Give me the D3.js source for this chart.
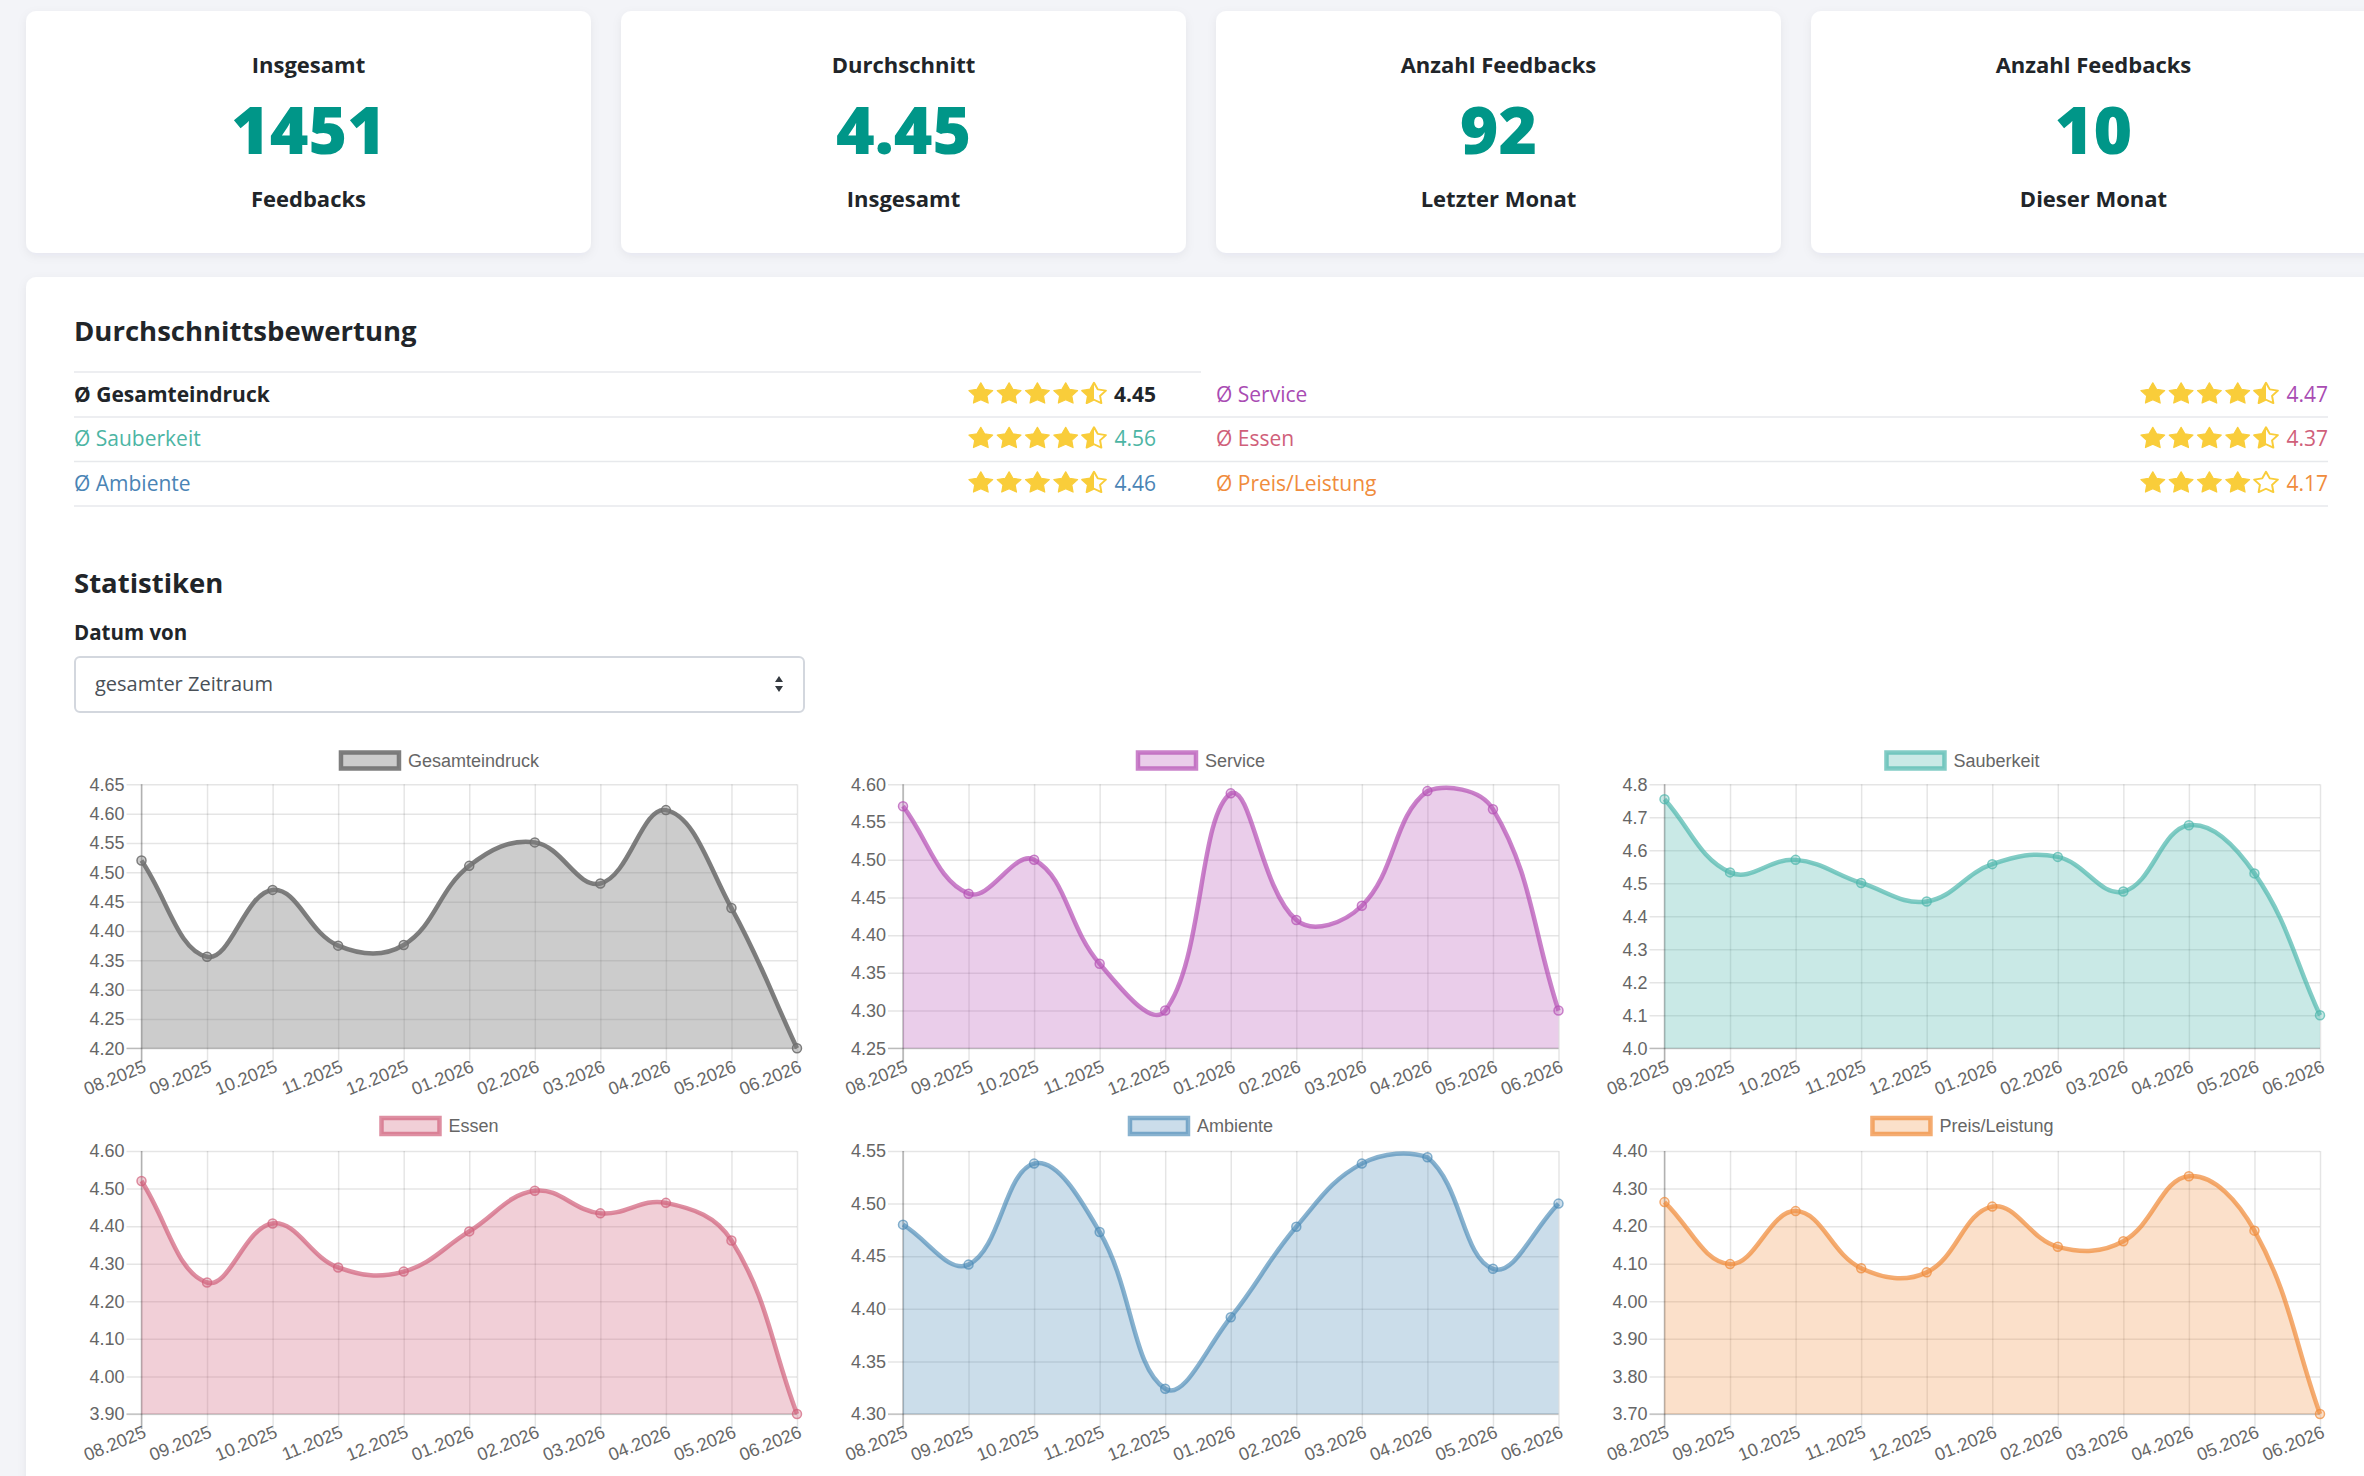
<!DOCTYPE html>
<html>
<head>
<meta charset="utf-8">
<script src="https://cdn.jsdelivr.net/npm/d3@7"></script>
<style>
  html, body { margin: 0; padding: 0; background: #f3f4f8; overflow: hidden; }
  svg { display: block; }
  .ui { font-family: "Open Sans", "Noto Sans", sans-serif; }
  .cj { font-family: "Liberation Sans", Arial, Helvetica, sans-serif; }
</style>
</head>
<body>
<div id="page"></div>
<script>
/* global d3 */

const width = 2364,
  height = 1476

// Summary cards
const cardTitles = ['Insgesamt', 'Durchschnitt', 'Anzahl Feedbacks', 'Anzahl Feedbacks']
const cardValues = ['1451', '4.45', '92', '10']
const cardSubtitles = ['Feedbacks', 'Insgesamt', 'Letzter Monat', 'Dieser Monat']

// Average ratings (left column first, then right column)
const ratingLabels = ['Gesamteindruck', 'Sauberkeit', 'Ambiente', 'Service', 'Essen', 'Preis/Leistung']
const ratingValues = [4.45, 4.56, 4.46, 4.47, 4.37, 4.17]

// Monthly averages
const months = ['08.2025', '09.2025', '10.2025', '11.2025', '12.2025', '01.2026',
  '02.2026', '03.2026', '04.2026', '05.2026', '06.2026']
const gesamteindruck = [4.52, 4.356, 4.47, 4.375, 4.376, 4.511, 4.551, 4.481, 4.606, 4.439, 4.20]
const service = [4.571, 4.455, 4.50, 4.362, 4.30, 4.588, 4.42, 4.439, 4.591, 4.567, 4.30]
const sauberkeit = [4.755, 4.533, 4.571, 4.501, 4.445, 4.558, 4.58, 4.475, 4.676, 4.53, 4.10]
const essen = [4.52, 4.25, 4.407, 4.29, 4.279, 4.386, 4.494, 4.434, 4.462, 4.362, 3.90]
const ambiente = [4.48, 4.442, 4.538, 4.473, 4.324, 4.392, 4.478, 4.538, 4.544, 4.438, 4.50]
const preisLeistung = [4.264, 4.099, 4.24, 4.088, 4.077, 4.252, 4.145, 4.16, 4.333, 4.188, 3.70]

const chartNames = ['Gesamteindruck', 'Service', 'Sauberkeit', 'Essen', 'Ambiente', 'Preis/Leistung']
const chartSeries = [gesamteindruck, service, sauberkeit, essen, ambiente, preisLeistung]

// y tick labels per chart
const yTickLabels = [
  ['4.20', '4.25', '4.30', '4.35', '4.40', '4.45', '4.50', '4.55', '4.60', '4.65'],
  ['4.25', '4.30', '4.35', '4.40', '4.45', '4.50', '4.55', '4.60'],
  ['4.0', '4.1', '4.2', '4.3', '4.4', '4.5', '4.6', '4.7', '4.8'],
  ['3.90', '4.00', '4.10', '4.20', '4.30', '4.40', '4.50', '4.60'],
  ['4.30', '4.35', '4.40', '4.45', '4.50', '4.55'],
  ['3.70', '3.80', '3.90', '4.00', '4.10', '4.20', '4.30', '4.40']
]

// colours per category
const palette = {
  'Gesamteindruck': { text: '#212529', line: 'rgba(112,112,112,0.9)', fill: 'rgba(128,128,128,0.4)' },
  'Service': { text: '#a94cb3', line: 'rgba(182,82,182,0.72)', fill: 'rgba(182,82,182,0.29)' },
  'Sauberkeit': { text: '#4cb5a4', line: 'rgba(77,182,172,0.7)', fill: 'rgba(77,182,172,0.3)' },
  'Essen': { text: '#d0607a', line: 'rgba(208,96,122,0.7)', fill: 'rgba(208,96,122,0.3)' },
  'Ambiente': { text: '#4a84b5', line: 'rgba(75,138,182,0.66)', fill: 'rgba(75,138,182,0.29)' },
  'Preis/Leistung': { text: '#f08c3c', line: 'rgba(240,140,60,0.72)', fill: 'rgba(240,140,60,0.27)' }
}
const starColor = '#f9cd3a'
const inkColor = '#212529'

let svg = d3.select('#page')
  .append('svg')
  .attr('width', width)
  .attr('height', height)

let defs = svg.append('defs')
let shadow = defs.append('filter').attr('id', 'shadow')
  .attr('x', '-5%').attr('y', '-5%').attr('width', '110%').attr('height', '120%')
shadow.append('feDropShadow')
  .attr('dx', 0).attr('dy', 3).attr('stdDeviation', 5)
  .attr('flood-color', '#1e2a50').attr('flood-opacity', 0.06)

svg.append('rect').attr('width', width).attr('height', height).attr('fill', '#f3f4f8')

// ---- summary cards ----
let cards = svg.selectAll('g.card')
  .data(cardValues)
  .enter()
  .append('g')
  .attr('class', 'card ui')
  .attr('transform', (d, i) => `translate(${26 + i * 595}, 11)`)

cards.append('rect')
  .attr('width', 565).attr('height', 242).attr('rx', 10)
  .attr('fill', '#fff').attr('filter', 'url(#shadow)')

cards.append('text')
  .attr('x', 282.5).attr('y', 62)
  .attr('text-anchor', 'middle')
  .attr('font-size', 22).attr('font-weight', 700).attr('fill', inkColor)
  .text((d, i) => cardTitles[i])

cards.append('text')
  .attr('x', 282.5).attr('y', 143)
  .attr('text-anchor', 'middle')
  .attr('font-size', 66).attr('font-weight', 800).attr('fill', '#009688')
  .text(d => d)

cards.append('text')
  .attr('x', 282.5).attr('y', 196)
  .attr('text-anchor', 'middle')
  .attr('font-size', 22).attr('font-weight', 700).attr('fill', inkColor)
  .text((d, i) => cardSubtitles[i])

// ---- main card ----
let main = svg.append('g').attr('class', 'ui')
main.append('rect')
  .attr('x', 26).attr('y', 277).attr('width', 2351).attr('height', 1300).attr('rx', 10)
  .attr('fill', '#fff').attr('filter', 'url(#shadow)')

main.append('text')
  .attr('x', 74).attr('y', 341)
  .attr('font-size', 27.5).attr('font-weight', 700).attr('fill', inkColor)
  .text('Durchschnittsbewertung')

// rating rows
const rowBaseline = [401.5, 446, 490.5]
const rowLines = [372, 417, 461.5, 506]

main.append('line')
  .attr('x1', 74).attr('x2', 1201).attr('y1', rowLines[0]).attr('y2', rowLines[0])
  .attr('stroke', '#e7e9ec').attr('stroke-width', 1.5)
main.selectAll('line.sep')
  .data(rowLines.slice(1))
  .enter()
  .append('line')
  .attr('class', 'sep')
  .attr('x1', 74).attr('x2', 2328)
  .attr('y1', d => d).attr('y2', d => d)
  .attr('stroke', '#e7e9ec').attr('stroke-width', 1.5)

// chubby five-point star (outer 12.5, inner 6.4)
const starPts = d3.range(10).map(k => [k * Math.PI / 5, k % 2 ? 6.4 : 12.5])
const starSym = d3.lineRadial().curve(d3.curveLinearClosed)(starPts)
let starClip = defs.append('clipPath').attr('id', 'halfClip')
starClip.append('rect').attr('x', -20).attr('y', -20).attr('width', 20).attr('height', 40)

let rows = main.selectAll('g.rating')
  .data(ratingValues)
  .enter()
  .append('g')
  .attr('class', 'rating')
  .attr('transform', (d, i) => `translate(0, ${rowBaseline[i % 3]})`)

rows.append('text')
  .attr('x', (d, i) => i < 3 ? 74 : 1216)
  .attr('font-size', 21)
  .attr('font-weight', (d, i) => i === 0 ? 700 : 400)
  .attr('fill', (d, i) => palette[ratingLabels[i]].text)
  .text((d, i) => 'Ø ' + ratingLabels[i])

rows.append('text')
  .attr('x', (d, i) => i < 3 ? 1156 : 2328)
  .attr('text-anchor', 'end')
  .attr('font-size', 21)
  .attr('font-weight', (d, i) => i === 0 ? 700 : 400)
  .attr('fill', (d, i) => palette[ratingLabels[i]].text)
  .text(d => d.toFixed(2))

rows.each(function (d, i) {
  let g = d3.select(this)
  let end = i < 3 ? 1156 : 2328
  let rounded = Math.round(d * 2) / 2
  for (let k = 0; k < 5; k++) {
    let cx = end - 62 - (4 - k) * 28.3
    let s = g.append('g').attr('transform', `translate(${cx}, -7.5) scale(1, 0.9)`)
    let kind = rounded >= k + 1 ? 'full' : (rounded >= k + 0.5 ? 'half' : 'empty')
    if (kind === 'full') {
      s.append('path').attr('d', starSym).attr('fill', starColor)
        .attr('stroke', starColor).attr('stroke-width', 1.2).attr('stroke-linejoin', 'round')
    } else {
      if (kind === 'half') {
        s.append('path').attr('d', starSym).attr('fill', starColor).attr('clip-path', 'url(#halfClip)')
      }
      s.append('path').attr('d', starSym).attr('fill', 'none')
        .attr('stroke', starColor).attr('stroke-width', 2).attr('stroke-linejoin', 'round')
    }
  }
})

main.append('text')
  .attr('x', 74).attr('y', 593)
  .attr('font-size', 27.5).attr('font-weight', 700).attr('fill', inkColor)
  .text('Statistiken')

main.append('text')
  .attr('x', 74).attr('y', 640)
  .attr('font-size', 20.5).attr('font-weight', 700).attr('fill', inkColor)
  .text('Datum von')

main.append('rect')
  .attr('x', 75).attr('y', 657).attr('width', 729).attr('height', 55).attr('rx', 5)
  .attr('fill', '#fff').attr('stroke', '#d3d7de').attr('stroke-width', 2)
main.append('text')
  .attr('x', 95).attr('y', 690.5)
  .attr('font-size', 20).attr('fill', '#495057')
  .text('gesamter Zeitraum')
main.append('path')
  .attr('d', 'M775,682 L779,676 L783,682 Z M775,686 L779,692 L783,686 Z')
  .attr('fill', '#343a40')

// ---- charts (Chart.js style spline, tension 0.4) ----
function ChartjsCurve(context, box) {
  this._context = context
  this._box = box
}
ChartjsCurve.prototype = {
  areaStart() { this._line = 0 },
  areaEnd() { this._line = NaN },
  lineStart() { this._pts = [] },
  point(x, y) { this._pts.push([+x, +y]) },
  lineEnd() {
    let p = this._pts, n = p.length, c = this._context, b = this._box
    if (n) {
      if (this._line) c.lineTo(p[0][0], p[0][1])
      else c.moveTo(p[0][0], p[0][1])
      if (n > 2) {
        let t = 0.4
        let cap = (v, lo, hi) => Math.max(lo, Math.min(hi, v))
        let ctrl = p.map((cur, i) => {
          let prev = p[Math.max(0, i - 1)], next = p[Math.min(n - 1, i + 1)]
          let d01 = Math.hypot(cur[0] - prev[0], cur[1] - prev[1])
          let d12 = Math.hypot(next[0] - cur[0], next[1] - cur[1])
          let s01 = d01 / (d01 + d12) || 0, s12 = d12 / (d01 + d12) || 0
          let fa = t * s01, fb = t * s12
          let dx = next[0] - prev[0], dy = next[1] - prev[1]
          return {
            px: cap(cur[0] - fa * dx, b[0], b[1]), py: cap(cur[1] - fa * dy, b[2], b[3]),
            nx: cap(cur[0] + fb * dx, b[0], b[1]), ny: cap(cur[1] + fb * dy, b[2], b[3])
          }
        })
        for (let i = 1; i < n; i++) {
          c.bezierCurveTo(ctrl[i - 1].nx, ctrl[i - 1].ny, ctrl[i].px, ctrl[i].py, p[i][0], p[i][1])
        }
      } else if (n === 2) {
        c.lineTo(p[1][0], p[1][1])
      }
    }
    if (this._line || (this._line !== 0 && n === 1)) c.closePath()
    this._line = 1 - this._line
  }
}
let chartjsCurve = box => context => new ChartjsCurve(context, box)

let drawChart = (name, values, tickLabels, idx) => {
  let col = idx % 3, row = Math.floor(idx / 3)
  let ox = 74 + 761.5 * col
  let top = row ? 1151 : 784.3,
    bottom = row ? 1414 : 1048.3,
    legendY = row ? 1126 : 760.5
  let left = ox + 67.5, right = ox + 723
  let colors = palette[name]
  let ticks = tickLabels.map(Number)

  let xScale = d3.scalePoint().domain(months).range([left, right])
  let yScale = d3.scaleLinear().domain(d3.extent(ticks)).range([bottom, top])

  let g = svg.append('g').attr('class', 'cj')

  // y grid + labels
  let yAxis = d3.axisLeft(yScale)
    .tickValues(ticks)
    .tickFormat((d, i) => tickLabels[i])
    .tickSize(-(right - left + 15))
    .tickPadding(2)
  let yg = g.append('g').attr('transform', `translate(${left - 15}, 0)`).call(yAxis)
  yg.select('.domain').remove()
  yg.selectAll('line').attr('stroke', 'rgba(0,0,0,0.1)').attr('stroke-width', 1.5)
  yg.selectAll('text').attr('fill', '#666').attr('font-size', 18).attr('font-family', null)

  // x grid + labels
  let xAxis = d3.axisBottom(xScale)
    .tickSize(-(bottom - top + 15))
  let xg = g.append('g').attr('transform', `translate(0, ${bottom + 15})`).call(xAxis)
  xg.select('.domain').remove()
  xg.selectAll('line').attr('stroke', 'rgba(0,0,0,0.1)').attr('stroke-width', 1.5)
  xg.selectAll('text')
    .attr('fill', '#666').attr('font-size', 18).attr('font-family', null)
    .attr('text-anchor', 'end')
    .attr('y', 0).attr('dy', '0.35em')
    .attr('transform', 'translate(3, 2) rotate(-22)')

  // axis borders
  g.append('line').attr('x1', left).attr('x2', left).attr('y1', top).attr('y2', bottom + 15)
    .attr('stroke', 'rgba(0,0,0,0.25)').attr('stroke-width', 1.5)
  g.append('line').attr('x1', left - 15).attr('x2', right).attr('y1', bottom).attr('y2', bottom)
    .attr('stroke', 'rgba(0,0,0,0.18)').attr('stroke-width', 1.5)

  let box = [left, right, top, bottom]
  let area = d3.area()
    .x((d, i) => xScale(months[i]))
    .y0(bottom)
    .y1(d => yScale(d))
    .curve(chartjsCurve(box))
  let line = d3.line()
    .x((d, i) => xScale(months[i]))
    .y(d => yScale(d))
    .curve(chartjsCurve(box))

  g.append('path').datum(values).attr('d', area).attr('fill', colors.fill)
  g.append('path').datum(values).attr('d', line)
    .attr('fill', 'none').attr('stroke', colors.line).attr('stroke-width', 4.5)
    .attr('stroke-linejoin', 'round')

  g.selectAll('circle.pt')
    .data(values)
    .enter()
    .append('circle')
    .attr('class', 'pt')
    .attr('cx', (d, i) => xScale(months[i]))
    .attr('cy', d => yScale(d))
    .attr('r', 4.5)
    .attr('fill', colors.fill)
    .attr('stroke', colors.line)
    .attr('stroke-width', 1.5)

  // legend
  let legend = g.append('g')
  let label = legend.append('text')
    .attr('y', legendY).attr('dy', '0.35em')
    .attr('font-size', 18).attr('fill', '#666')
    .text(name)
  let tw = label.node().getComputedTextLength()
  let lx = ox + 365 - (60 + 9 + tw) / 2
  legend.insert('rect', 'text')
    .attr('x', lx + 2).attr('y', legendY - 8).attr('width', 58).attr('height', 16)
    .attr('fill', colors.fill).attr('stroke', colors.line).attr('stroke-width', 4.5)
  label.attr('x', lx + 69)
}

chartNames.forEach((name, i) => drawChart(name, chartSeries[i], yTickLabels[i], i))
</script>
</body>
</html>
